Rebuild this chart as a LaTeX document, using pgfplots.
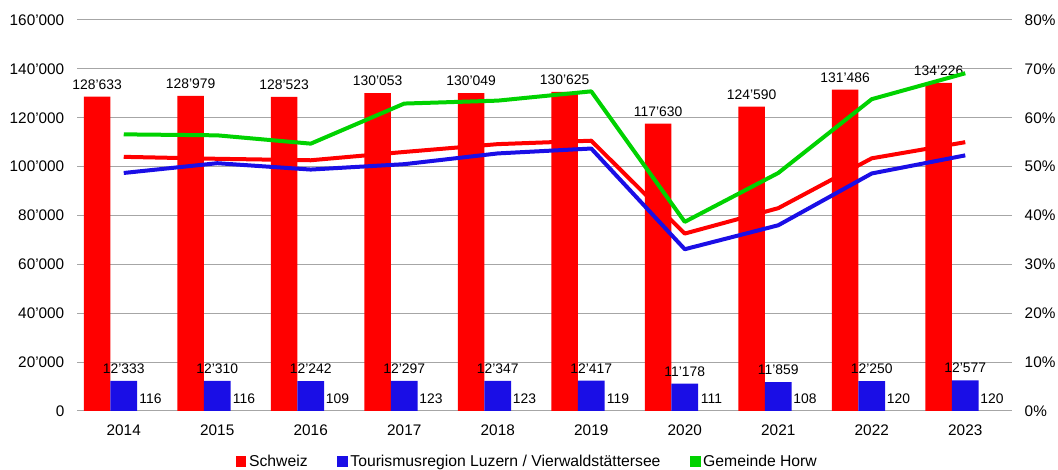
\documentclass[border=0pt]{standalone}
\usepackage{fontspec}
\setmainfont{Liberation Sans}
\usepackage{pgfplots}
\pgfplotsset{compat=1.18}
\definecolor{chred}{RGB}{255,0,0}
\definecolor{chblue}{RGB}{26,14,230}
\definecolor{chgreen}{RGB}{0,210,0}
\definecolor{gridgray}{RGB}{166,166,166}
\pgfkeys{/pgf/number format/.cd, 1000 sep={’}, assume math mode=true}

\begin{document}
\begin{tikzpicture}
\begin{axis}[
    name=ax,
    scale only axis,
    width=701.25pt, height=293.25pt,
    xmin=-0.5, xmax=9.5,
    ymin=0, ymax=160000,
    xtick={0,...,9},
    xticklabels={2014,2015,2016,2017,2018,2019,2020,2021,2022,2023},
    ytick={0,20000,40000,60000,80000,100000,120000,140000,160000},
    scaled y ticks=false,
    yticklabel={\pgfmathprintnumber[fixed,precision=0,1000 sep={’},assume math mode=true]{\tick}},
    ybar=0pt, bar width=20pt,
    axis line style={draw=none},
    major tick length=0pt,
    ymajorgrids,
    grid style={gridgray, line width=0.75pt},
    tick label style={font=\fontsize{11.5}{13}\selectfont},
    yticklabel style={xshift=-6pt},
    xticklabel style={yshift=-7pt},
    nodes near coords={\pgfmathprintnumber[fixed,precision=0,1000 sep={’},assume math mode=true]{\pgfplotspointmeta}},
    every node near coord/.append style={font=\fontsize{10.4}{12}\selectfont, text=black, yshift=2pt},
    legend style={at={(0.482,-0.13)}, anchor=center, draw=none, fill=none,
        legend columns=3, font=\fontsize{11.8}{13}\selectfont,
        /tikz/every even column/.append style={column sep=20pt}},
]
\addplot[fill=chred, draw=none,
    legend image code/.code={\fill[chred] (0pt,-4pt) rectangle (8pt,4pt);}]
  coordinates {(0,128633) (1,128979) (2,128523) (3,130053) (4,130049)
               (5,130625) (6,117630) (7,124590) (8,131486) (9,134226)};
\addlegendentry{Schweiz}
\addplot[fill=chblue, draw=none,
    legend image code/.code={\fill[chblue] (0pt,-4pt) rectangle (8pt,4pt);}]
  coordinates {(0,12333) (1,12310) (2,12242) (3,12297) (4,12347)
               (5,12417) (6,11178) (7,11859) (8,12250) (9,12577)};
\addlegendentry{Tourismusregion Luzern / Vierwaldstättersee}
% Horw values are too small to show as bars at this scale
\addplot[fill=none, draw=none,
    legend image code/.code={\fill[chgreen] (0pt,-4pt) rectangle (8pt,4pt);}]
  coordinates {(0,116) (1,116) (2,109) (3,123) (4,123)
               (5,119) (6,111) (7,108) (8,120) (9,120)};
\addlegendentry{Gemeinde Horw}
\end{axis}

\begin{axis}[
    scale only axis,
    width=701.25pt, height=293.25pt,
    xmin=-0.5, xmax=9.5,
    ymin=0, ymax=80,
    axis x line=none,
    axis y line*=right,
    axis line style={draw=none},
    major tick length=0pt,
    ytick={0,10,...,80},
    yticklabel={\pgfmathprintnumber[fixed,precision=0,assume math mode=true]{\tick}\%},
    tick label style={font=\fontsize{11.5}{13}\selectfont},
    yticklabel style={xshift=6pt},
]
\addplot[chred, line width=3pt, line join=round] coordinates {
    (0,52.0) (1,51.6) (2,51.3) (3,53.0) (4,54.6)
    (5,55.3) (6,36.3) (7,41.5) (8,51.7) (9,55.0)};
\addplot[chblue, line width=3pt, line join=round] coordinates {
    (0,48.7) (1,50.7) (2,49.4) (3,50.5) (4,52.7)
    (5,53.7) (6,33.1) (7,38.0) (8,48.6) (9,52.3)};
\addplot[chgreen, line width=3pt, line join=round] coordinates {
    (0,56.6) (1,56.4) (2,54.7) (3,62.9) (4,63.5)
    (5,65.4) (6,38.7) (7,48.7) (8,63.8) (9,69.1)};
\end{axis}

\pgfresetboundingbox
\path[use as bounding box] ([xshift=-57.75pt,yshift=-44.25pt]ax.south west)
    rectangle ([xshift=34.5pt,yshift=15pt]ax.north east);
\end{tikzpicture}
\end{document}
